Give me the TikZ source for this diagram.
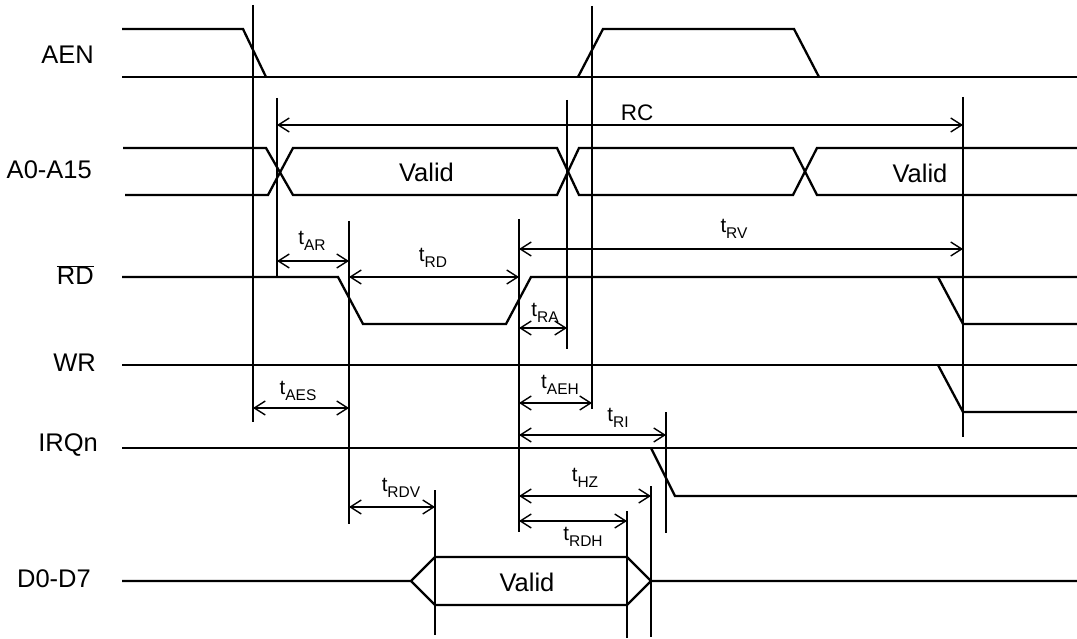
\documentclass[tikz,border=0pt]{standalone}
\usepackage{fontspec}
\setmainfont{Liberation Sans}
\usetikzlibrary{arrows.meta}
\newcommand{\tlab}[1]{t\raisebox{-0.3em}{\fontsize{15.5}{15.5}\selectfont #1}}
\tikzset{
  sig/.style={line width=2.3pt, line join=miter},
  vline/.style={line width=1.8pt},
  thinv/.style={line width=1.2pt},
  dim/.style={line width=1.4pt, {Straight Barb[length=11pt,width=14pt]}-{Straight Barb[length=11pt,width=14pt]}},
  signame/.style={font=\fontsize{25.5}{28}\selectfont, anchor=base east, inner sep=0pt},
  txt/.style={font=\fontsize{25.5}{28}\selectfont, anchor=base, inner sep=0pt},
  tl/.style={font=\fontsize{20.5}{22}\selectfont, inner sep=0pt},
}
\begin{document}
\begin{tikzpicture}[x=1pt,y=-1pt]
\useasboundingbox (0,0) rectangle (1077,639);

% signal names
\node[signame] (nAEN) at (94,64) {AEN};
\node[signame] (nA) at (92,179) {A0-A15};
\node[signame] (nRD) at (94,285) {$\overline{\mbox{RD}}$};
\node[signame] (nWR) at (96,371) {WR};
\node[signame] (nIRQ) at (98,451) {IRQn};
\node[signame] (nD) at (91,587) {D0-D7};

% AEN
\draw[sig] (122,77) -- (1077,77);
\draw[sig] (122,29) -- (243,29) -- (266,77);
\draw[sig] (578,77) -- (603,29) -- (794,29) -- (819,77);

% A0-A15
\draw[sig] (123,148) -- (266,148) -- (293,195) -- (557,195) -- (579,148) -- (793,148) -- (817,195) -- (1077,195);
\draw[sig] (125,195) -- (268,195) -- (293,148) -- (557,148) -- (579,195) -- (793,195) -- (817,148) -- (1077,148);
\node[txt] (v1) at (426.5,182) {Valid};
\node[txt] (v2) at (920,183) {Valid};

% RD
\draw[sig] (122,277) -- (338,277) -- (363,324) -- (506,324) -- (531,277) -- (1077,277);
\draw[sig] (938,277) -- (963,324) -- (1077,324);

% WR
\draw[sig] (122,365) -- (1077,365);
\draw[sig] (938,365) -- (963,412) -- (1077,412);

% IRQn
\draw[sig] (122,448) -- (1077,448);
\draw[sig] (651,448) -- (675,496) -- (1077,496);

% D0-D7
\draw[sig] (122,581) -- (411,581) -- (435,557) -- (627,557) -- (651,581) -- (1077,581);
\draw[sig] (411,581) -- (435,605) -- (627,605) -- (651,581);
\node[txt] (v3) at (527,591) {Valid};

% vertical markers
\draw[vline] (253,5) -- (253,422);
\draw[vline] (592,6) -- (592,409);
\draw[thinv] (277,98) -- (277,278);
\draw[vline] (567,100) -- (567,349);
\draw[vline] (963,97) -- (963,437);
\draw[vline] (349,221) -- (349,524);
\draw[vline] (519,219) -- (519,532);
\draw[vline] (666,412) -- (666,533);
\draw[vline] (435,490) -- (435,635);
\draw[vline] (627,511) -- (627,638);
\draw[vline] (651,486) -- (651,637);

% dimensions
\draw[dim] (277,125) -- (963,125);
\node[txt, font=\fontsize{22.5}{24}\selectfont] (rc) at (637,121) {RC};
\draw[dim] (277,261) -- (349,261);
\node[tl] (lAR) at (312,241) {\tlab{AR}};
\draw[dim] (349,277) -- (519,277);
\node[tl] (lRD) at (433,258) {\tlab{RD}};
\draw[dim] (519,249) -- (963,249);
\node[tl] (lRV) at (734,229) {\tlab{RV}};
\draw[dim] (519,328) -- (567,328);
\node[tl] (lRA) at (545,313) {\tlab{RA}};
\draw[dim] (253,408) -- (349,408);
\node[tl] (lAES) at (298,391) {\tlab{AES}};
\draw[dim] (519,403) -- (592,403);
\node[tl] (lAEH) at (560,385) {\tlab{AEH}};
\draw[dim] (519,435) -- (666,435);
\node[tl] (lRI) at (618,418) {\tlab{RI}};
\draw[dim] (519,496) -- (651,496);
\node[tl] (lHZ) at (585,478) {\tlab{HZ}};
\draw[dim] (519,521) -- (627,521);
\node[tl] (lRDH) at (583,537) {\tlab{RDH}};
\draw[dim] (349,507) -- (435,507);
\node[tl] (lRDV) at (401,488) {\tlab{RDV}};
\end{tikzpicture}
\end{document}
